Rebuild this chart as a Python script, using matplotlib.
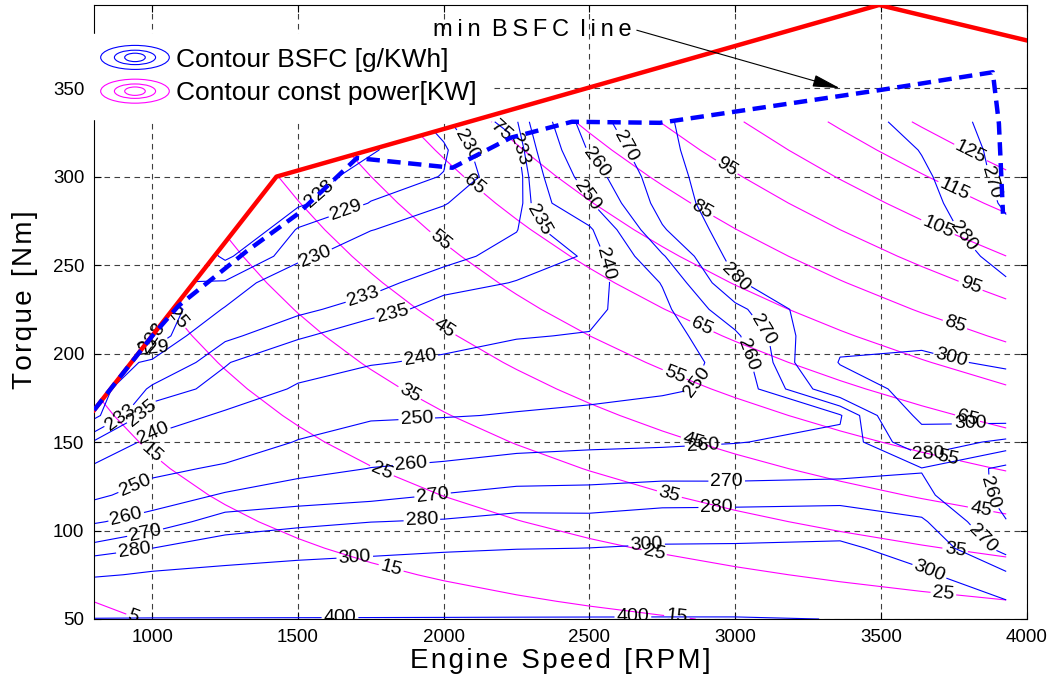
import numpy as np
import matplotlib
matplotlib.use("Agg")
import matplotlib.pyplot as plt
from matplotlib.patches import Polygon, Ellipse
from matplotlib.legend_handler import HandlerBase
from matplotlib.lines import Line2D

plt.rcParams['font.family'] = ['Liberation Sans', 'DejaVu Sans']

# engine map grid (rpm, Nm)
speed = [800, 1000, 1250, 1500, 1750, 2000, 2250, 2500, 2750, 3000, 3360, 3640, 3930]
torque = [50, 60, 75, 90, 105, 120, 135, 150, 165, 180, 195, 210, 225, 240, 255, 270, 285, 300, 315, 331]

# BSFC [g/kWh] per speed column, bottom to top
bsfc_800 = [403, 330, 297, 273, 259, 248, 241, 235.3, 229.2, 228.5, 229, 230, 231, 232, 233, 234, 235, 236, 237, 238]
bsfc_1000 = [404, 340, 303, 280, 264, 254.5, 247.5, 241.5, 236.5, 233.5, 230.3, 227.8, 228.2, 229, 230, 231, 232, 233, 234, 235]
bsfc_1250 = [404, 345, 308, 285, 275, 261, 251.5, 244, 241, 236, 234.8, 232.5, 230.1, 229.1, 227.8, 226.4, 227, 228, 229, 230]
bsfc_1500 = [404, 350, 312, 290, 277, 265, 257, 250.5, 245, 240.7, 237.5, 234.6, 232.5, 231.2, 229.6, 229.1, 227.8, 227.5, 227.8, 228.3]
bsfc_1750 = [404, 355, 318, 292, 279.8, 267, 260.2, 255, 248.7, 244, 239.5, 236.8, 234, 232.2, 231.2, 229.95, 229.05, 228.4, 227.9, 227.5]
bsfc_2000 = [404, 360, 322, 296, 281, 270.5, 261.5, 256, 249.5, 245, 241, 237.8, 235.9, 234.2, 232.2, 230.9, 229.9, 229.05, 228.8, 229.5]
bsfc_2250 = [404, 365, 325, 299, 283.5, 273, 264, 257, 250.5, 247, 243.5, 239.5, 237.2, 235.1, 234, 232.9, 231.5, 231, 232, 234.5]
bsfc_2500 = [404, 368, 327, 300.2, 283.5, 272.5, 266, 257.5, 251, 248.5, 245, 240.5, 237.5, 236, 235.2, 238.5, 249, 255, 261, 266]
bsfc_2750 = [404, 370, 330, 302.5, 286, 274.5, 266, 258.5, 253.5, 248.8, 246.5, 245.5, 247.5, 250.5, 259, 269, 274, 276, 278, 279]
bsfc_3000 = [404, 370, 330, 303, 286, 275, 265.5, 259.7, 254.5, 251.5, 252.5, 258, 267, 279, 284, 286, 287, 287, 286, 285]
bsfc_3360 = [399, 365, 328, 305, 287, 275.5, 266.5, 262, 259, 290, 301, 296, 292, 290, 289, 289, 290, 291, 291, 290]
bsfc_3640 = [340, 325, 304, 289, 281.5, 272.5, 269.5, 290, 305, 307, 302.5, 297, 293, 290, 288, 286, 284, 282, 279.5, 273]
bsfc_3930 = [318, 301, 282, 266, 260.3, 257, 257.5, 276, 310, 306, 298, 292, 286, 281, 276.5, 272, 268.5, 267, 266.5, 268]

bsfc_cols = [bsfc_800, bsfc_1000, bsfc_1250, bsfc_1500, bsfc_1750, bsfc_2000, bsfc_2250,
             bsfc_2500, bsfc_2750, bsfc_3000, bsfc_3360, bsfc_3640, bsfc_3930]

bsfc_levels = [228, 229, 230, 233, 235, 240, 250, 260, 270, 280, 300, 400]
power_levels = [5, 15, 25, 35, 45, 55, 65, 75, 85, 95, 105, 115, 125]

# full load curve and min BSFC line
wot_speed = [800, 1426, 3494, 4000]
wot_torque = [168, 300, 397, 377]
minb_speed = [800, 1000, 1090, 1325, 1500, 1702, 2030, 2230, 2440, 2742, 3500, 3884, 3905, 3919]
minb_torque = [168, 210, 227, 258, 279, 310.5, 305, 322, 331, 330.4, 349, 359, 330, 279]

power_label_pos = {
    5: [(934, 51)],
    15: [(975, 140), (1815, 76), (2800, 51)],
    25: [(1078, 219), (1781, 131), (2718, 84.5), (3713, 62)],
    35: [(1874, 175), (2770, 118), (3754, 88)],
    45: [(1997, 213), (2855, 150), (3840, 110)],
    55: [(1987, 264), (2787, 186), (3726, 139)],
    65: [(2097, 294), (2879, 213), (3795, 162)],
    75: [(2193, 325)],
    85: [(2879, 279), (3749, 214)],
    95: [(2958, 302), (3805, 237)],
    105: [(3692, 270)],
    115: [(3749, 292)],
    125: [(3806, 313)],
}
bsfc_label_pos = {
    228: [(945, 183), (1565, 292)],
    229: [(980, 185), (1668, 279)],
    230: [(1565, 252), (2091, 319)],
    233: [(900, 161), (1720, 234), (2210, 314)],
    235: [(968, 166), (1826, 221), (2306, 274)],
    240: [(1002, 155), (1918, 198), (2536, 250)],
    250: [(948, 123), (1908, 161), (2879, 183), (2478, 288)],
    260: [(913, 106), (1891, 133), (2890, 147), (2509, 306), (3051, 200), (3833, 121)],
    270: [(975, 99), (1963, 118), (2971, 127), (2598, 315), (3061, 209), (3847, 95), (3870, 296)],
    280: [(941, 85), (1925, 106), (2937, 110), (2982, 238), (3658, 147), (3795, 268)],
    300: [(1695, 84), (2697, 89), (3661, 75), (3737, 195), (3806, 161)],
    400: [(1644, 52), (2649, 53)],
}

S, T = np.meshgrid(speed, torque)
Z = np.array(bsfc_cols).T
P = S * T * np.pi / 30000.0   # kW


class RingHandler(HandlerBase):
    def create_artists(self, legend, orig_handle, xdescent, ydescent, width, height, fontsize, trans):
        c = orig_handle.get_color()
        cx = 0.5 * width - xdescent
        cy = 0.5 * height - ydescent
        arts = []
        for fw, fh in [(1.0, 1.0), (0.6, 0.6), (0.3, 0.35)]:
            arts.append(Ellipse((cx, cy), width * fw, height * 1.3 * fh, fill=False,
                                edgecolor=c, lw=0.8, transform=trans))
        return arts


fig = plt.figure(figsize=(10.54, 6.91), dpi=100)
ax = fig.add_axes([0.0892, 0.1042, 0.8848, 0.8886])
ax.set_xlim(800, 4000)
ax.set_ylim(50, 397)

clip = Polygon(list(zip([800] + wot_speed + [4000], [40] + wot_torque + [40])),
               closed=True, transform=ax.transData)


def draw_level(field, lev, color, positions):
    cs = ax.contour(S, T, field, levels=[lev], colors=color, linewidths=0.8)
    cs.set_clip_path(clip)
    if positions:
        cs.clabel(manual=positions, inline=True, inline_spacing=2,
                  fontsize=14, fmt='%d', colors='k')


for lev in power_levels:
    draw_level(P, lev, '#ff00ff', power_label_pos.get(lev))
for lev in bsfc_levels:
    draw_level(Z, lev, '#0000ff', bsfc_label_pos.get(lev))

# drawn above the legend box so the box never hides them
ax.plot(wot_speed, wot_torque, color='#ff0000', lw=3.2, zorder=12)
ax.plot(minb_speed, minb_torque, color='#0000ff', lw=3.2, ls=(0, (3, 1.7)), zorder=12)

ax.annotate('m\u2009i\u2009n\u2009 B\u2009S\u2009F\u2009C\u2009 l\u2009i\u2009n\u2009e',
            xy=(3359, 350), xytext=(2303, 383), ha='center', va='center', fontsize=17,
            arrowprops=dict(arrowstyle='-|>,head_length=1.0,head_width=0.22', color='k',
                            lw=0.8, relpos=(1.0, 0.55), shrinkA=2, shrinkB=0), zorder=13)

ax.set_xticks([1000, 1500, 2000, 2500, 3000, 3500, 4000])
ax.set_yticks([50, 100, 150, 200, 250, 300, 350])
ax.tick_params(direction='in', top=True, right=True, length=5, labelsize=13.5, pad=7)
ax.grid(True, color='0.25', linestyle=(0, (5, 4)), linewidth=0.8)
ax.set_axisbelow(True)

ax.set_xlabel('E\u200an\u200ag\u200ai\u200an\u200ae\u2009 S\u200ap\u200ae\u200ae\u200ad\u2009 [\u200aR\u200aP\u200aM\u200a]', fontsize=20)
ax.set_ylabel('T\u200ao\u200ar\u200aq\u200au\u200ae\u2009 [\u200aN\u200am\u200a]', fontsize=20)
ax.xaxis.set_label_coords(0.5, -0.047)
ax.yaxis.set_label_coords(-0.060, 0.52)

h_b = Line2D([], [], color='#0000ff')
h_p = Line2D([], [], color='#ff00ff')
leg = ax.legend([h_b, h_p], ['Contour BSFC [g/KWh]', 'Contour const power[KW]'],
                handler_map={h_b: RingHandler(), h_p: RingHandler()},
                loc='upper left', bbox_to_anchor=(-0.007, 0.952), borderaxespad=0,
                fontsize=19, handlelength=2.6, handletextpad=0.25, labelspacing=0.37,
                borderpad=0.5, frameon=True, fancybox=False, framealpha=1,
                facecolor='white', edgecolor='white')
leg.set_zorder(10)

fig.savefig('out.png', dpi=100)
